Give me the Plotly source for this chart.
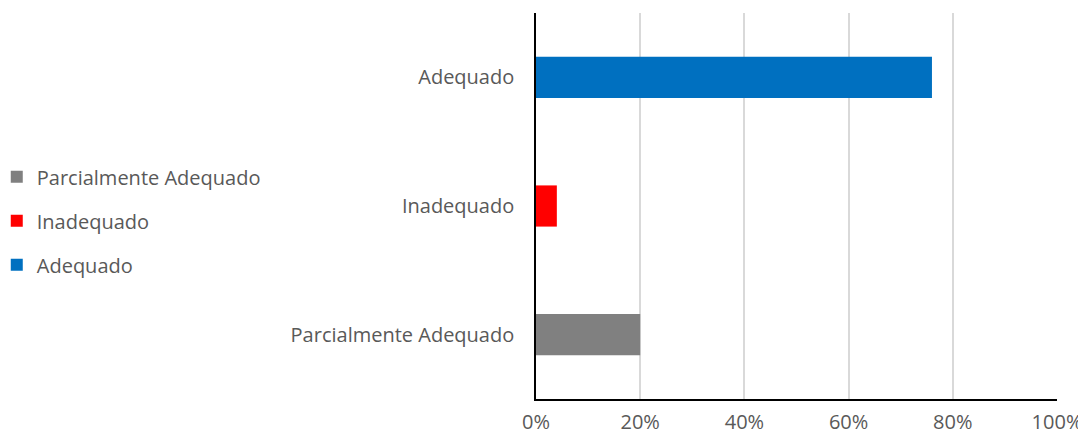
import plotly.graph_objects as go

categories = ["Parcialmente Adequado", "Inadequado", "Adequado"]
values = [20, 4, 76]
colors = ["#808080", "#FF0000", "#0070C0"]
x_ticks = [0, 20, 40, 60, 80, 100]
x_tick_labels = ["0%", "20%", "40%", "60%", "80%", "100%"]

fig = go.Figure()
for i, (cat, val, col) in enumerate(zip(categories, values, colors)):
    fig.add_trace(go.Bar(
        y=[cat], x=[val], orientation="h", name=cat,
        marker=dict(color=col, line=dict(width=0)),
        legendgroup=f"g{i}",
    ))

# the page body has an 8px margin, so the figure is sized to fit the window
font_family = "Open Sans, Noto Sans, sans-serif"
fig.update_layout(
    width=1078, height=426,
    margin=dict(l=528, r=29, t=5, b=35, autoexpand=False),
    paper_bgcolor="white", plot_bgcolor="white",
    barmode="overlay", bargap=0.68,
    font=dict(family=font_family, size=20, color="#595959"),
    showlegend=True,
    legend=dict(
        x=-1.035, y=0.626, xanchor="left", yanchor="top",
        traceorder="grouped", tracegroupgap=15,
        font=dict(size=20, color="#595959"),
        itemwidth=30, bgcolor="rgba(0,0,0,0)",
    ),
    xaxis=dict(
        range=[0, 100], tickvals=x_ticks, ticktext=x_tick_labels,
        showgrid=True, gridcolor="#D9D9D9", gridwidth=1.5,
        showline=True, linecolor="black", linewidth=1.5,
        zeroline=False, ticks="", ticklabelstandoff=4,
        automargin=False, fixedrange=True,
    ),
    yaxis=dict(
        type="category", categoryorder="array", categoryarray=categories,
        range=[-0.5, 2.5],
        showline=True, linecolor="black", linewidth=1.5,
        showgrid=False, ticks="", ticklabelstandoff=16,
        automargin=False, fixedrange=True,
    ),
)

fig.write_html("out.html")
